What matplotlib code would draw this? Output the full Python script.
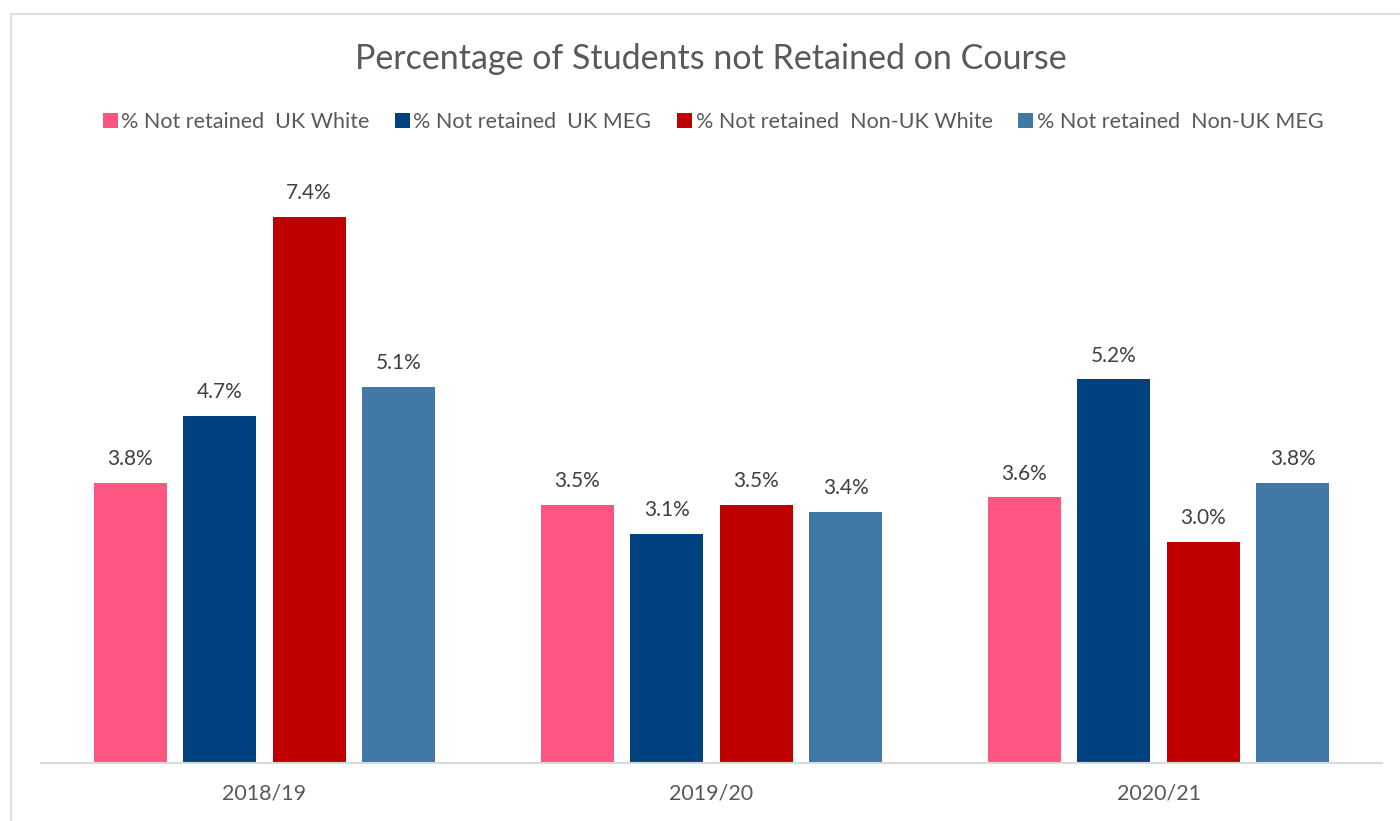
import matplotlib
matplotlib.use("Agg")
import matplotlib.pyplot as plt
import numpy as np
from matplotlib.patches import Rectangle

years = ["2018/19", "2019/20", "2020/21"]
series_names = [
    "% Not retained  UK White",
    "% Not retained  UK MEG",
    "% Not retained  Non-UK White",
    "% Not retained  Non-UK MEG",
]
uk_white = [3.8, 3.5, 3.6]
uk_meg = [4.7, 3.1, 5.2]
non_uk_white = [7.4, 3.5, 3.0]
non_uk_meg = [5.1, 3.4, 3.8]
colors = ["#FF5580", "#00427F", "#C00000", "#4178A6"]

W, H = 1400, 821
fig = plt.figure(figsize=(W / 100, H / 100), dpi=100)
plt.rcParams["font.family"] = ["Lato", "DejaVu Sans"]
text_color = "#595959"

# chart frame
fig.add_artist(Rectangle((11 / W, -0.1), 1.2, (H - 14) / H + 0.1,
                         transform=fig.transFigure, fill=False,
                         edgecolor="#D9D9D9", linewidth=1.2))

left, right = 41, 1382
bottom, top = 763, 173
ax = fig.add_axes([left / W, 1 - bottom / H, (right - left) / W, (bottom - top) / H])

x = np.arange(len(years))
step = 0.2
width = 0.164
all_series = [uk_white, uk_meg, non_uk_white, non_uk_meg]
for i, (vals, name, c) in enumerate(zip(all_series, series_names, colors)):
    pos = x + (i - 1.5) * step
    bars = ax.bar(pos, vals, width=width, color=c, label=name)
    for b, v in zip(bars, vals):
        ax.annotate(f"{v:.1f}%", (b.get_x() + b.get_width() / 2, v),
                    xytext=(0, 10), textcoords="offset points",
                    ha="center", va="bottom", fontsize=15, color="#404040")

ax.set_xlim(-0.5, 2.5)
ax.set_ylim(0, 8)
ax.set_xticks(x)
ax.set_xticklabels(years, fontsize=15.5, color=text_color)
ax.tick_params(axis="x", length=0, pad=15)
ax.set_yticks([])
for s in ["top", "right", "left"]:
    ax.spines[s].set_visible(False)
ax.spines["bottom"].set_color("#D9D9D9")
ax.spines["bottom"].set_linewidth(1.5)

fig.text(711 / W, 1 - 59 / H, "Percentage of Students not Retained on Course",
         ha="center", va="center", fontsize=24.5, color=text_color)

leg = fig.legend(loc="center", bbox_to_anchor=(713 / W, 1 - 122 / H), ncol=4,
                 frameon=False, fontsize=15.5, handlelength=0.7, handleheight=0.7,
                 handletextpad=0.15, columnspacing=1.2, labelcolor=text_color)

fig.savefig("out.png", dpi=100, facecolor="white")
